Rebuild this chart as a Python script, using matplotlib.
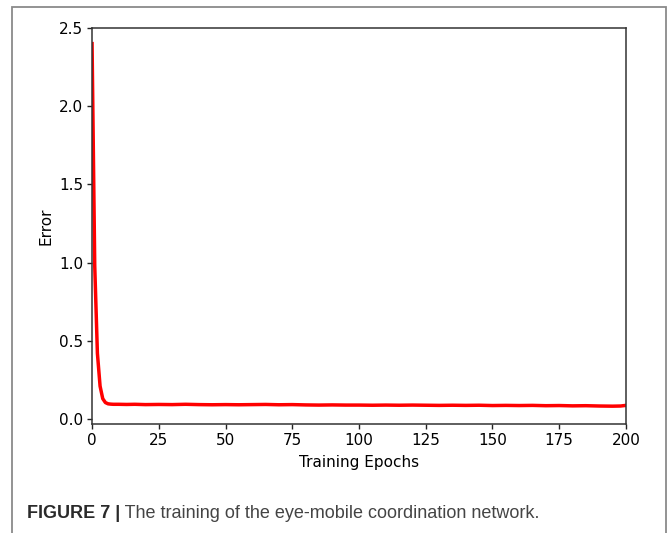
import matplotlib
matplotlib.use("Agg")
import matplotlib.pyplot as plt
from matplotlib.patches import Rectangle

# training error per epoch (dense at the start, sparser once it flattens)
epochs = [0, 1, 2, 3, 4, 5, 6, 7, 8, 10, 13, 16, 20, 25, 30, 35, 40, 45, 50,
          55, 60, 65, 70, 75, 80, 85, 90, 95, 100, 105, 110, 115, 120, 125,
          130, 135, 140, 145, 150, 155, 160, 165, 170, 175, 180, 185, 190,
          195, 198, 200]
error = [2.40, 0.98, 0.42, 0.21, 0.13, 0.105, 0.097, 0.095, 0.094, 0.094,
         0.093, 0.094, 0.092, 0.093, 0.092, 0.094, 0.092, 0.091, 0.092,
         0.091, 0.092, 0.093, 0.091, 0.092, 0.090, 0.089, 0.090, 0.089,
         0.089, 0.088, 0.089, 0.088, 0.089, 0.088, 0.087, 0.088, 0.087,
         0.088, 0.086, 0.087, 0.086, 0.087, 0.085, 0.086, 0.084, 0.085,
         0.083, 0.082, 0.083, 0.087]

xticks = [0, 25, 50, 75, 100, 125, 150, 175, 200]
yticks = [0.0, 0.5, 1.0, 1.5, 2.0, 2.5]

fig = plt.figure(figsize=(6.72, 5.33), dpi=100)
ax = fig.add_axes([0.137, 0.2045, 0.7945, 0.743])

ax.plot(epochs, error, color="red", lw=2.5)
ax.set_xlim(0, 200)
ax.set_ylim(-0.032, 2.5)
ax.set_xticks(xticks)
ax.set_yticks(yticks)
ax.set_xticklabels([str(t) for t in xticks])
ax.set_yticklabels([f"{t:.1f}" for t in yticks])
ax.tick_params(labelsize=11, color="#222222", width=1.0, pad=3)
for sp in ax.spines.values():
    sp.set_color("#333333")
    sp.set_linewidth(1.1)
ax.set_xlabel("Training Epochs", fontsize=11, labelpad=5)
ax.set_ylabel("Error", fontsize=11)

# grey border round the figure panel
fig.patches.append(Rectangle((12 / 672, -0.02), 654 / 672, 1 - 7 / 533 + 0.02,
                             transform=fig.transFigure, fill=False,
                             edgecolor="#8a8a8a", lw=1.3))

cap = fig.text(27 / 672, 1 - 513 / 533, "FIGURE 7 |", fontsize=13,
               fontweight="bold", family="Liberation Sans", color="#2a2a2a",
               va="center")
ax.annotate(" The training of the eye-mobile coordination network.",
            xy=(1, 0.5), xycoords=cap, va="center", fontsize=13,
            family="Liberation Sans", color="#444444", annotation_clip=False)

fig.savefig("out.png", dpi=100)
